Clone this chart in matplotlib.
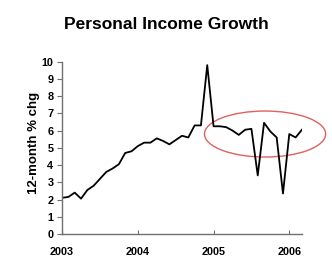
import matplotlib
matplotlib.use("Agg")
import matplotlib.pyplot as plt
from matplotlib.patches import Ellipse
import numpy as np

plt.rcParams['font.family'] = ['Liberation Sans', 'DejaVu Sans']

title = "Personal Income Growth"
ylabel = "12-month % chg"
start_year = 2003
growth = [2.1, 2.15, 2.4, 2.05, 2.55, 2.8, 3.2, 3.6, 3.8, 4.05, 4.7, 4.8,
          5.1, 5.3, 5.3, 5.55, 5.4, 5.2, 5.45, 5.7, 5.6, 6.3, 6.3, 9.8,
          6.25, 6.25, 6.2, 6.0, 5.75, 6.05, 6.1, 3.4, 6.45, 5.95, 5.6, 2.35,
          5.8, 5.6, 6.05]
year_ticks = [2003, 2004, 2005, 2006]
y_ticks = list(range(0, 11))

x = start_year + np.arange(len(growth)) / 12.0

fig = plt.figure(figsize=(3.32, 2.74), dpi=100)
ax = fig.add_axes([0.187, 0.146, 0.722, 0.629])
ax.plot(x, growth, color='black', lw=1.3)

ax.set_xlim(2003, 2006.165)
ax.set_ylim(0, 10)
ax.set_xticks(year_ticks)
ax.set_xticklabels([str(y) for y in year_ticks])
ax.set_yticks(y_ticks)

for s in ['top', 'right']:
    ax.spines[s].set_visible(False)
for s in ['left', 'bottom']:
    ax.spines[s].set_color('#707070')
    ax.spines[s].set_linewidth(1.0)

ax.tick_params(axis='x', direction='in', length=3, width=0.8, color='#707070',
               pad=9.5, labelsize=7.8)
ax.tick_params(axis='y', direction='out', length=3.3, width=0.8, color='#707070',
               pad=3, labelsize=7.8)
for lab in ax.get_xticklabels() + ax.get_yticklabels():
    lab.set_fontweight('bold')

ax.set_ylabel(ylabel, fontsize=9.5, fontweight='bold')
ax.yaxis.set_label_coords(-0.092, 0.53)
fig.text(0.5, 0.912, title, ha='center', va='center', fontsize=12.5,
         fontweight='bold')

ell = Ellipse((2005.68, 5.8), width=1.6, height=2.67, fill=False,
              edgecolor='#e06060', lw=1.0, clip_on=False)
ax.add_patch(ell)

fig.savefig('out.png', dpi=100)
